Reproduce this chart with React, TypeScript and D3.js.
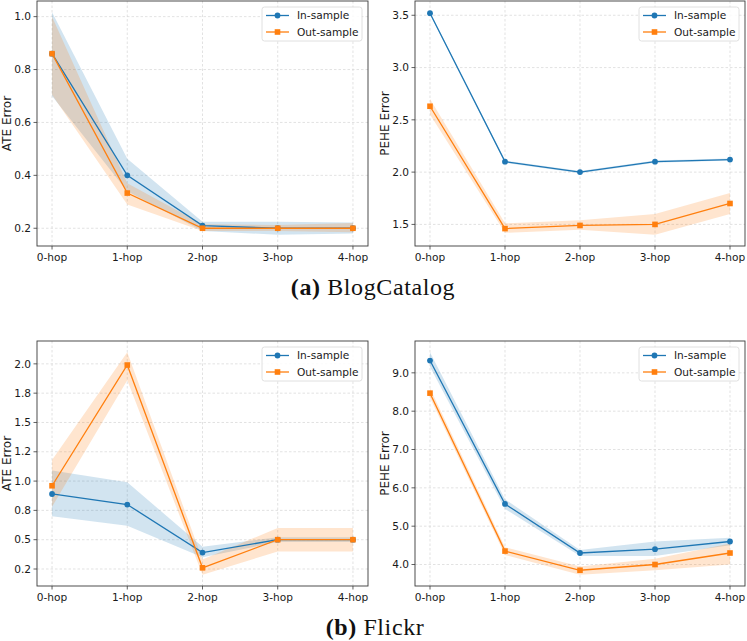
import React from "react";
import * as d3 from "d3";

const hops = ["0-hop", "1-hop", "2-hop", "3-hop", "4-hop"];
const seriesNames = ["In-sample", "Out-sample"];

// (a) BlogCatalog - ATE
const blogAteIn = [0.86, 0.4, 0.21, 0.2, 0.2];
const blogAteInLo = [0.7, 0.34, 0.19, 0.175, 0.18];
const blogAteInHi = [1.017, 0.463, 0.225, 0.225, 0.222];
const blogAteOut = [0.86, 0.333, 0.2, 0.2, 0.2];
const blogAteOutLo = [0.705, 0.29, 0.19, 0.19, 0.185];
const blogAteOutHi = [1.0, 0.37, 0.215, 0.212, 0.22];
const blogAteTicks = [0.2, 0.4, 0.6, 0.8, 1.0];

// (a) BlogCatalog - PEHE
const blogPeheIn = [3.52, 2.1, 2.0, 2.1, 2.12];
const blogPeheInLo = [3.51, 2.09, 1.99, 2.09, 2.11];
const blogPeheInHi = [3.53, 2.11, 2.01, 2.11, 2.13];
const blogPeheOut = [2.63, 1.46, 1.49, 1.5, 1.7];
const blogPeheOutLo = [2.55, 1.42, 1.45, 1.4, 1.6];
const blogPeheOutHi = [2.7, 1.51, 1.54, 1.6, 1.8];
const blogPeheTicks = [1.5, 2.0, 2.5, 3.0, 3.5];

// (b) Flickr - ATE
const flickrAteIn = [0.89, 0.8, 0.39, 0.5, 0.5];
const flickrAteInLo = [0.7, 0.62, 0.35, 0.48, 0.48];
const flickrAteInHi = [1.09, 0.99, 0.44, 0.52, 0.52];
const flickrAteOut = [0.96, 1.99, 0.26, 0.5, 0.5];
const flickrAteOutLo = [0.78, 1.86, 0.2, 0.4, 0.4];
const flickrAteOutHi = [1.18, 2.1, 0.33, 0.6, 0.6];
const flickrAteTicks = [0.25, 0.5, 0.75, 1.0, 1.25, 1.5, 1.75, 2.0];
const flickrAteTickLabels = ["0.2", "0.5", "0.8", "1.0", "1.2", "1.5", "1.8", "2.0"];

// (b) Flickr - PEHE
const flickrPeheIn = [9.32, 5.58, 4.3, 4.4, 4.6];
const flickrPeheInLo = [9.16, 5.45, 4.22, 4.22, 4.5];
const flickrPeheInHi = [9.54, 5.7, 4.38, 4.6, 4.7];
const flickrPeheOut = [8.47, 4.35, 3.85, 4.0, 4.3];
const flickrPeheOutLo = [8.35, 4.25, 3.73, 3.85, 4.0];
const flickrPeheOutHi = [8.6, 4.45, 3.95, 4.15, 4.55];
const flickrPeheTicks = [4, 5, 6, 7, 8, 9];

const BLUE = "#1f77b4";
const ORANGE = "#ff7f0e";
const FONT = "DejaVu Sans, sans-serif";

type PanelProps = {
  left: number;
  top: number;
  right: number;
  bottom: number;
  ylabel: string;
  inV: number[];
  inLo: number[];
  inHi: number[];
  outV: number[];
  outLo: number[];
  outHi: number[];
  ticks: number[];
  tickLabels?: string[];
};

const Panel = (p: PanelProps) => {
  const lo = d3.min([...p.inLo, ...p.outLo]) as number;
  const hi = d3.max([...p.inHi, ...p.outHi]) as number;
  const pad = (hi - lo) * 0.05;
  const x = d3.scaleLinear().domain([-0.2, hops.length - 1 + 0.2]).range([p.left, p.right]);
  const y = d3.scaleLinear().domain([lo - pad, hi + pad]).range([p.bottom, p.top]);

  const area = (loA: number[], hiA: number[]) =>
    d3
      .area<number>()
      .x((_, i) => x(i))
      .y0((_, i) => y(loA[i]))
      .y1((_, i) => y(hiA[i]))(loA) as string;
  const line = (v: number[]) =>
    d3
      .line<number>()
      .x((_, i) => x(i))
      .y((d) => y(d))(v) as string;

  const fmt = d3.format(".1f");
  const lx = p.right - 106;
  const ly = p.top + 6;

  return (
    <g fontFamily={FONT}>
      {/* grid */}
      {hops.map((_, i) => (
        <line key={"gx" + i} x1={x(i)} x2={x(i)} y1={p.top} y2={p.bottom} stroke="#d6d6d6" strokeWidth={0.7} strokeDasharray="2.5,2" />
      ))}
      {p.ticks.map((t, i) => (
        <line key={"gy" + i} x1={p.left} x2={p.right} y1={y(t)} y2={y(t)} stroke="#d6d6d6" strokeWidth={0.7} strokeDasharray="2.5,2" />
      ))}

      {/* bands */}
      <path d={area(p.inLo, p.inHi)} fill={BLUE} fillOpacity={0.2} />
      <path d={area(p.outLo, p.outHi)} fill={ORANGE} fillOpacity={0.2} />

      {/* lines */}
      <path d={line(p.inV)} fill="none" stroke={BLUE} strokeWidth={1.3} />
      {p.inV.map((d, i) => (
        <circle key={"ci" + i} cx={x(i)} cy={y(d)} r={2.9} fill={BLUE} />
      ))}
      <path d={line(p.outV)} fill="none" stroke={ORANGE} strokeWidth={1.3} />
      {p.outV.map((d, i) => (
        <rect key={"so" + i} x={x(i) - 2.8} y={y(d) - 2.8} width={5.6} height={5.6} fill={ORANGE} />
      ))}

      {/* spines */}
      <rect x={p.left} y={p.top} width={p.right - p.left} height={p.bottom - p.top} fill="none" stroke="#3a3a3a" strokeWidth={0.9} />

      {/* x ticks */}
      {hops.map((h, i) => (
        <g key={"xt" + i}>
          <line x1={x(i)} x2={x(i)} y1={p.bottom} y2={p.bottom + 3.5} stroke="#3a3a3a" strokeWidth={0.8} />
          <text x={x(i)} y={p.bottom + 15} textAnchor="middle" fontSize={10.6} fill="#1a1a1a">
            {h}
          </text>
        </g>
      ))}
      {/* y ticks */}
      {p.ticks.map((t, i) => (
        <g key={"yt" + i}>
          <line x1={p.left - 3.5} x2={p.left} y1={y(t)} y2={y(t)} stroke="#3a3a3a" strokeWidth={0.8} />
          <text x={p.left - 6} y={y(t)} dy="0.35em" textAnchor="end" fontSize={10.6} fill="#1a1a1a">
            {p.tickLabels ? p.tickLabels[i] : fmt(t)}
          </text>
        </g>
      ))}
      <text
        transform={`translate(${p.left - 30},${(p.top + p.bottom) / 2}) rotate(-90)`}
        textAnchor="middle"
        dy="0.35em"
        fontSize={12}
        fill="#1a1a1a"
      >
        {p.ylabel}
      </text>

      {/* legend */}
      <rect x={lx} y={ly} width={100} height={34} rx={2.5} fill="white" fillOpacity={0.85} stroke="#d8d8d8" strokeWidth={0.8} />
      {seriesNames.map((s, i) => {
        const yy = ly + 8.5 + i * 16.5;
        const c = i === 0 ? BLUE : ORANGE;
        return (
          <g key={"lg" + i}>
            <line x1={lx + 4} x2={lx + 27} y1={yy} y2={yy} stroke={c} strokeWidth={1.3} />
            {i === 0 ? (
              <circle cx={lx + 15.5} cy={yy} r={2.9} fill={c} />
            ) : (
              <rect x={lx + 12.7} y={yy - 2.8} width={5.6} height={5.6} fill={c} />
            )}
            <text x={lx + 35} y={yy} dy="0.35em" fontSize={10.6} fill="#1a1a1a">
              {s}
            </text>
          </g>
        );
      })}
    </g>
  );
};

const Caption = ({ x, y, tag, name }: { x: number; y: number; tag: string; name: string }) => (
  <text x={x} y={y} textAnchor="middle" fontFamily="Liberation Serif, serif" fontSize={24} letterSpacing={0.6} fill="#111">
    <tspan fontWeight="bold">{tag}</tspan>
    <tspan> {name}</tspan>
  </text>
);

export default function App() {
  return (
    <svg width={747} height={641} style={{ position: "absolute", left: 0, top: 0, background: "white" }}>
      <Panel left={37} top={1} right={368} bottom={246} ylabel="ATE Error"
        inV={blogAteIn} inLo={blogAteInLo} inHi={blogAteInHi}
        outV={blogAteOut} outLo={blogAteOutLo} outHi={blogAteOutHi} ticks={blogAteTicks} />
      <Panel left={415} top={1} right={745} bottom={246} ylabel="PEHE Error"
        inV={blogPeheIn} inLo={blogPeheInLo} inHi={blogPeheInHi}
        outV={blogPeheOut} outLo={blogPeheOutLo} outHi={blogPeheOutHi} ticks={blogPeheTicks} />
      <Caption x={373} y={295} tag="(a)" name="BlogCatalog" />
      <Panel left={37} top={341} right={368} bottom={586} ylabel="ATE Error"
        inV={flickrAteIn} inLo={flickrAteInLo} inHi={flickrAteInHi}
        outV={flickrAteOut} outLo={flickrAteOutLo} outHi={flickrAteOutHi}
        ticks={flickrAteTicks} tickLabels={flickrAteTickLabels} />
      <Panel left={415} top={341} right={745} bottom={586} ylabel="PEHE Error"
        inV={flickrPeheIn} inLo={flickrPeheInLo} inHi={flickrPeheInHi}
        outV={flickrPeheOut} outLo={flickrPeheOutLo} outHi={flickrPeheOutHi} ticks={flickrPeheTicks} />
      <Caption x={375} y={635} tag="(b)" name="Flickr" />
    </svg>
  );
}
